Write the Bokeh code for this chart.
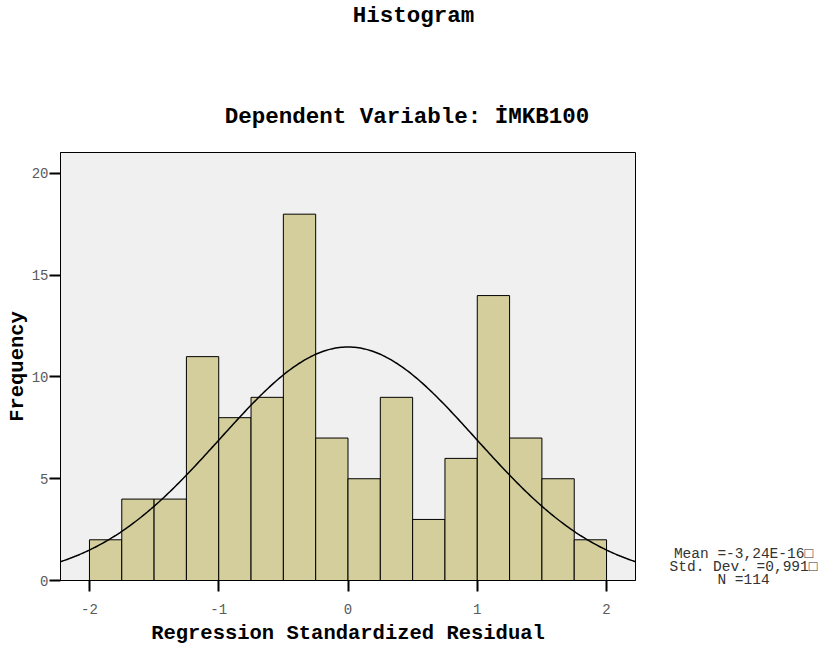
import numpy as np
from bokeh.plotting import figure
from bokeh.layouts import row, column
from bokeh.models import Range1d, FixedTicker, ColumnDataSource
from bokeh.core.properties import value
from bokeh.embed import file_html
from bokeh.resources import INLINE

# Data
bin_left = [-2.0, -1.75, -1.5, -1.25, -1.0, -0.75, -0.5, -0.25,
            0.0, 0.25, 0.5, 0.75, 1.0, 1.25, 1.5, 1.75]
bin_width = 0.25
counts = [2, 4, 4, 11, 8, 9, 18, 7, 5, 9, 3, 6, 14, 7, 5, 2]
mean_val = -3.24e-16
std_val = 0.991
n_val = 114
x_ticks = [-2, -1, 0, 1, 2]
y_ticks = [0, 5, 10, 15, 20]
titles = ["Histogram", "Dependent Variable: İMKB100"]
stats = ["Mean =-3,24E-16\u25a1", "Std. Dev. =0,991\u25a1", "N =114"]

FONT = "Liberation Mono"
W = 820
HEAD = 130          # height of the title strip
H = 517             # height of the plot row
TOP, BOTTOM = 22, 67
Y_MAX = 21.03
MAIN_W = 645


def blank(width, height, x_range, y_range):
    f = figure(width=width, height=height, output_backend="svg", toolbar_location=None,
               x_range=x_range, y_range=y_range, x_axis_type=None, y_axis_type=None,
               min_border_left=0, min_border_right=0, min_border_top=0, min_border_bottom=0)
    f.title.visible = False
    f.outline_line_color = None
    f.grid.visible = False
    f.border_fill_color = "white"
    f.background_fill_color = "white"
    return f


# Title strip (pixel-like coordinates, origin bottom-left)
p0 = blank(W, HEAD, Range1d(0, W), Range1d(0, HEAD))
p0.text(x=[413, 406.5], y=[HEAD - 15, HEAD - 116], text=titles,
        text_font=value(FONT), text_font_style="bold", text_font_size="22.5px",
        text_color="black", text_align="center", text_baseline="middle")

p = figure(width=MAIN_W, height=H, output_backend="svg", toolbar_location=None,
           x_range=Range1d(-2.224, 2.224), y_range=Range1d(0, Y_MAX),
           min_border_left=60, min_border_right=10, min_border_top=TOP, min_border_bottom=BOTTOM)
p.title.visible = False
p.background_fill_color = "#f0f0f0"
p.border_fill_color = "white"
p.outline_line_color = "black"
p.outline_line_width = 1
p.xgrid.visible = False
p.ygrid.visible = False

src = ColumnDataSource(dict(left=bin_left,
                            right=[b + bin_width for b in bin_left],
                            top=counts,
                            bottom=[0] * len(counts)))
p.quad(left="left", right="right", top="top", bottom="bottom", source=src,
       fill_color="#d3ce9b", line_color="black", line_width=1)

# Normal curve from the stated mean, std dev and N
xs = np.linspace(-2.224, 2.224, 300)
ys = n_val * bin_width / (std_val * np.sqrt(2 * np.pi)) * np.exp(-0.5 * ((xs - mean_val) / std_val) ** 2)
p.line(xs, ys, line_color="black", line_width=1.5)

for ax in (p.xaxis, p.yaxis):
    ax.major_tick_out = 11
    ax.major_tick_in = 0
    ax.minor_tick_line_color = None
    ax.axis_line_color = "black"
    ax.major_tick_line_color = "black"
    ax.major_tick_line_width = 2
    ax.major_label_text_font = FONT
    ax.major_label_text_font_size = "14px"
    ax.major_label_text_color = "#5a5a5a"
    ax.axis_label_text_font = FONT
    ax.axis_label_text_font_style = "bold"
    ax.axis_label_text_color = "black"
    ax.axis_label_text_font_size = "20.5px"

p.xaxis.ticker = FixedTicker(ticks=x_ticks)
p.yaxis.ticker = FixedTicker(ticks=y_ticks)
p.xaxis.major_label_overrides = {t: str(t) for t in x_ticks}
p.xaxis.axis_label = "Regression Standardized Residual"
p.yaxis.axis_label = "Frequency"
p.xaxis.major_label_standoff = 12
p.xaxis.axis_label_standoff = 5
p.yaxis.major_label_standoff = 1
p.yaxis.axis_label_standoff = 0

# Side panel for the summary statistics (pixel-like coordinates)
p2 = blank(W - MAIN_W, H, Range1d(0, W - MAIN_W), Range1d(0, H))
first_y = 553 - HEAD
p2.text(x=[98] * len(stats), y=[H - (first_y + i * 13) for i in range(len(stats))], text=stats,
        text_font=value(FONT), text_font_size="14.5px", text_color="#333333",
        text_align="center", text_baseline="middle")

layout = column(p0, row(p, column(p2)))
open("out.html", "w").write(file_html(layout, INLINE))
